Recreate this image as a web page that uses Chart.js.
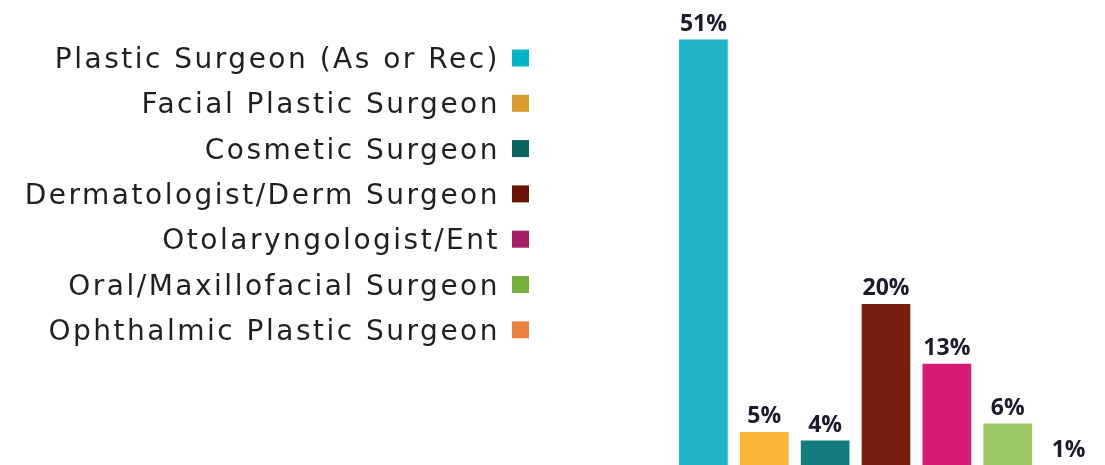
<!DOCTYPE html>
<html>
<head>
<meta charset="utf-8">
<script src="https://cdn.jsdelivr.net/npm/chart.js@4"></script>
<style>
  html, body { margin: 0; padding: 0; background: #ffffff; overflow: hidden; }
  #wrap { position: relative; width: 1105px; height: 465px; }
</style>
</head>
<body>
<div id="wrap"><canvas id="c"></canvas></div>
<script>
const categories = [
  'Plastic Surgeon (As or Rec)',
  'Facial Plastic Surgeon',
  'Cosmetic Surgeon',
  'Dermatologist/Derm Surgeon',
  'Otolaryngologist/Ent',
  'Oral/Maxillofacial Surgeon',
  'Ophthalmic Plastic Surgeon'
];
const values = [51, 5, 4, 20, 13, 6, 1];
const barColors = ['#1FB5C6', '#FBB535', '#127B7E', '#771E10', '#D71B73', '#9CC865', '#E8823C'];
const legendColors = ['#00B5C8', '#D89B2C', '#0A6560', '#6B1408', '#A61E64', '#73B13A', '#E8823C'];

const legendPlugin = {
  id: 'sideLegend',
  afterDraw(chart) {
    const ctx = chart.ctx;
    ctx.save();
    ctx.font = '28px "DejaVu Sans"';
    if ('letterSpacing' in ctx) ctx.letterSpacing = '2.5px';
    ctx.textAlign = 'right';
    ctx.textBaseline = 'alphabetic';
    categories.forEach((label, i) => {
      const cy = 58 + i * 45.3;
      ctx.fillStyle = '#231F20';
      ctx.fillText(label, 500, cy + 10);
      ctx.fillStyle = legendColors[i];
      ctx.fillRect(512, cy - 8.5, 17, 17);
    });
    ctx.restore();
  }
};

const valueLabels = {
  id: 'valueLabels',
  afterDatasetsDraw(chart) {
    const ctx = chart.ctx;
    const meta = chart.getDatasetMeta(0);
    ctx.save();
    ctx.font = 'bold 23px "Open Sans"';
    ctx.fillStyle = '#1B1B2B';
    ctx.textAlign = 'center';
    ctx.textBaseline = 'alphabetic';
    meta.data.forEach((bar, i) => {
      const top = Math.min(bar.y, chart.chartArea.bottom + 1);
      ctx.fillText(values[i] + '%', bar.x, top - 9);
    });
    ctx.restore();
  }
};

new Chart(document.getElementById('c'), {
  type: 'bar',
  data: {
    labels: categories,
    datasets: [{
      data: values,
      backgroundColor: barColors,
      borderWidth: 0,
      barPercentage: 0.8,
      categoryPercentage: 1.0
    }]
  },
  options: {
    responsive: true,
    maintainAspectRatio: false,
    devicePixelRatio: 1,
    animation: false,
    layout: { padding: { left: 673, right: 6, top: 0, bottom: 0 } },
    plugins: { legend: { display: false }, tooltip: { enabled: false } },
    scales: {
      x: { display: false },
      y: { display: false, min: 1.137, max: 55.64 }
    }
  },
  plugins: [valueLabels, legendPlugin]
});
</script>
</body>
</html>
